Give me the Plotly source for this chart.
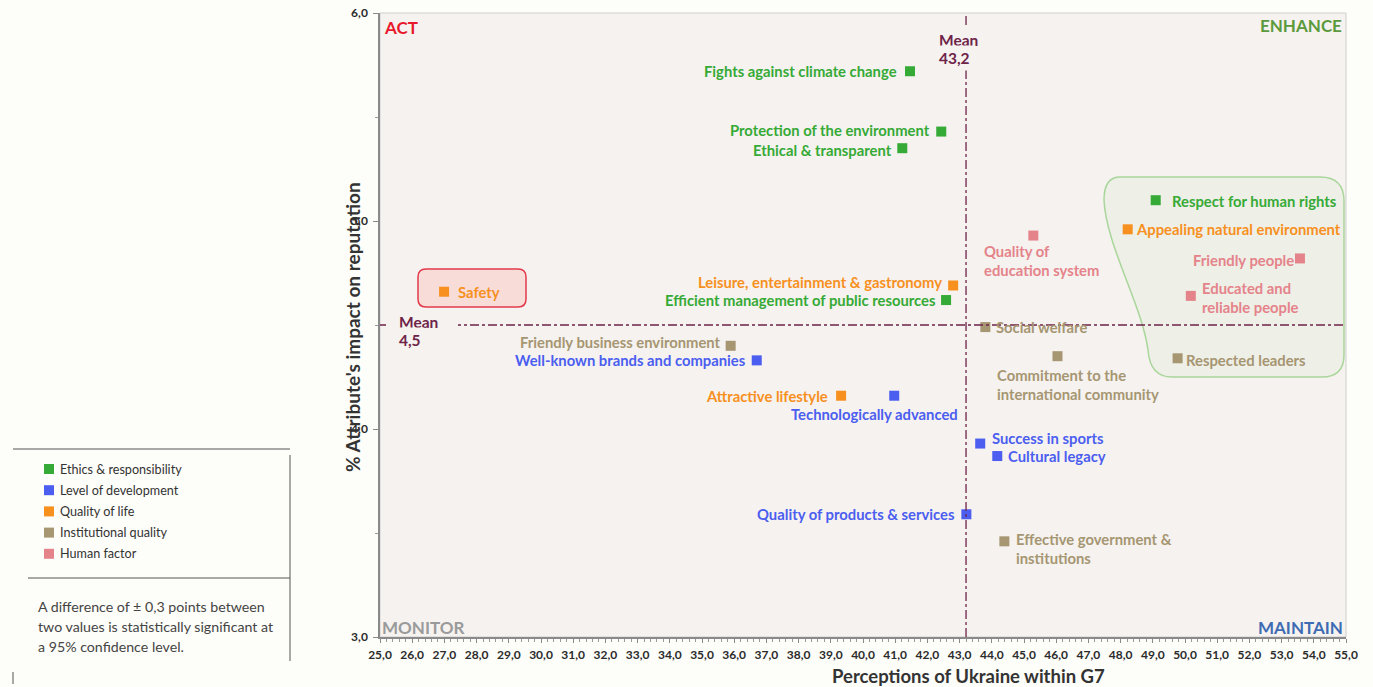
import plotly.graph_objects as go

# ---------------- data ----------------
attributes = [
    "Fights against climate change", "Protection of the environment", "Ethical & transparent",
    "Respect for human rights", "Appealing natural environment", "Quality of<br>education system",
    "Friendly people", "Educated and<br>reliable people", "Safety",
    "Leisure, entertainment & gastronomy", "Efficient management of public resources",
    "Social welfare", "Friendly business environment", "Well-known brands and companies",
    "Commitment to the<br>international community", "Respected leaders", "Attractive lifestyle",
    "Technologically advanced", "Success in sports", "Cultural legacy",
    "Quality of products & services", "Effective government &<br>institutions",
]
perception = [41.46, 42.43, 41.22, 49.09, 48.22, 45.29, 53.57, 50.18, 26.99, 42.80, 42.58,
              43.80, 35.89, 36.70, 46.04, 49.77, 39.32, 40.97, 43.64, 44.17, 43.21, 44.39]
impact = [5.72, 5.43, 5.35, 5.10, 4.96, 4.93, 4.82, 4.64, 4.66, 4.69, 4.62,
          4.49, 4.40, 4.33, 4.35, 4.34, 4.16, 4.16, 3.93, 3.87, 3.59, 3.46]
group = ["Ethics & responsibility", "Ethics & responsibility", "Ethics & responsibility",
         "Ethics & responsibility", "Quality of life", "Human factor",
         "Human factor", "Human factor", "Quality of life",
         "Quality of life", "Ethics & responsibility",
         "Institutional quality", "Institutional quality", "Level of development",
         "Institutional quality", "Institutional quality", "Quality of life",
         "Level of development", "Level of development", "Level of development",
         "Level of development", "Institutional quality"]
categories = ["Ethics & responsibility", "Level of development", "Quality of life",
              "Institutional quality", "Human factor"]
mean_x = 43.2
mean_y = 4.5
x_ticks = [25 + i for i in range(31)]
y_ticks = [3, 4, 5, 6]

# ---------------- style ----------------
colors = {
    "Ethics & responsibility": "#36aa36",
    "Level of development": "#4b5ef0",
    "Quality of life": "#f7901e",
    "Institutional quality": "#a69672",
    "Human factor": "#e5838a",
}
# label placement per point: (xanchor, yanchor, xshift px, yshift px)
label_place = [
    ("right", "middle", -11, 0), ("right", "middle", -9, 2), ("right", "middle", -8, -2),
    ("left", "middle", 14, -1), ("left", "middle", 6, 0), ("left", "top", -51, -4),
    ("right", "middle", -4, -2), ("left", "middle", 9, -2), ("left", "middle", 12, 0),
    ("right", "middle", -9, 3), ("right", "middle", -8, 0),
    ("left", "middle", 9, 0), ("right", "middle", -8, 4), ("right", "middle", -9, 0),
    ("left", "top", -62, -8), ("left", "middle", 6, -2), ("right", "middle", -11, 0),
    ("right", "middle", 66, -18), ("left", "middle", 10, 6), ("left", "middle", 9, 0),
    ("right", "middle", -9, 0), ("left", "top", 10, 13),
]

W, H = 1373, 687
L, R, T, B = 380, 1346, 13, 637
PLOT_BG = "#f5f2ef"
PAPER_BG = "#fdfdf9"
FONT = "Lato"
MEAN_COL = "#6e2349"
LABEL_SIZE = 14.8


def px_x(p):  # pixel -> paper x
    return (p - L) / (R - L)


def px_y(p):  # pixel -> paper y
    return (B - p) / (B - T)


def dx(p):  # pixel -> data x
    return 25 + (p - L) / (R - L) * 30


def dy(p):  # pixel -> data y
    return 6 - (p - T) / (B - T) * 3


fig = go.Figure()

for cat in categories:
    idx = [i for i, g in enumerate(group) if g == cat]
    fig.add_trace(go.Scatter(
        x=[perception[i] for i in idx], y=[impact[i] for i in idx],
        mode="markers", name=cat, showlegend=False,
        marker=dict(symbol="square", size=10, color=colors[cat]),
        hovertext=[attributes[i].replace("<br>", " ") for i in idx], hoverinfo="text+x+y",
    ))

shapes = []
annotations = []

# plot frame (light)
shapes.append(dict(type="rect", xref="paper", yref="paper", x0=0, x1=1, y0=0, y1=1,
                   line=dict(color="#cfcfcf", width=1), layer="below"))

# green blob around top-right cluster
pts = [(1120, 177), (1320, 177), (1344, 177), (1344, 201), (1344, 355), (1344, 377), (1322, 377),
       (1172, 377), (1150, 377), (1148, 350), (1142, 305), (1106, 245), (1104, 200), (1104, 177), (1120, 177)]
P = [(dx(a), dy(b)) for a, b in pts]
path = ("M {0[0]},{0[1]} L {1[0]},{1[1]} Q {2[0]},{2[1]} {3[0]},{3[1]} L {4[0]},{4[1]} "
        "Q {5[0]},{5[1]} {6[0]},{6[1]} L {7[0]},{7[1]} Q {8[0]},{8[1]} {9[0]},{9[1]} "
        "C {10[0]},{10[1]} {11[0]},{11[1]} {12[0]},{12[1]} Q {13[0]},{13[1]} {14[0]},{14[1]} Z").format(*P)
shapes.append(dict(type="path", xref="x", yref="y", path=path,
                   line=dict(color="#a9d69a", width=1.5), fillcolor="rgba(190,225,175,0.13)", layer="below"))

# Safety rounded box
bx0, bx1, by0, by1, r = 418, 526, 269, 307, 8
bp = [(bx0 + r, by0), (bx1 - r, by0), (bx1, by0), (bx1, by0 + r), (bx1, by1 - r), (bx1, by1), (bx1 - r, by1),
      (bx0 + r, by1), (bx0, by1), (bx0, by1 - r), (bx0, by0 + r), (bx0, by0), (bx0 + r, by0)]
BP = [(dx(a), dy(b)) for a, b in bp]
spath = ("M {0[0]},{0[1]} L {1[0]},{1[1]} Q {2[0]},{2[1]} {3[0]},{3[1]} L {4[0]},{4[1]} "
         "Q {5[0]},{5[1]} {6[0]},{6[1]} L {7[0]},{7[1]} Q {8[0]},{8[1]} {9[0]},{9[1]} "
         "L {10[0]},{10[1]} Q {11[0]},{11[1]} {12[0]},{12[1]} Z").format(*BP)
shapes.append(dict(type="path", xref="x", yref="y", path=spath,
                   line=dict(color="#e23a4c", width=1.5), fillcolor="#f8dcd8", layer="below"))

# mean lines
shapes.append(dict(type="line", xref="x", yref="y", x0=mean_x, x1=mean_x, y0=3, y1=6,
                   line=dict(color=MEAN_COL, width=1.3, dash="dashdot"), layer="above"))
shapes.append(dict(type="line", xref="x", yref="y", x0=25, x1=55, y0=mean_y, y1=mean_y,
                   line=dict(color=MEAN_COL, width=1.3, dash="dashdot"), layer="above"))

# point labels
for i, name in enumerate(attributes):
    xa, ya, xs, ys = label_place[i]
    annotations.append(dict(
        x=perception[i], y=impact[i], xref="x", yref="y", text=name, showarrow=False,
        xanchor=xa, yanchor=ya, xshift=xs, yshift=ys, align="left",
        font=dict(family=FONT, size=LABEL_SIZE, color=colors[group[i]], weight="bold"),
    ))

# mean labels (background hides the line)
mean_font = dict(family=FONT, size=15.5, color=MEAN_COL, weight="bold")
for t, yp in [("Mean", 40), ("43,2", 58)]:
    annotations.append(dict(x=px_x(939), y=px_y(yp), xref="paper", yref="paper", text=t, showarrow=False,
                            xanchor="left", yanchor="middle", xshift=-4, bgcolor=PLOT_BG, borderpad=3,
                            font=mean_font))
for t, yp in [("Mean", 322), ("4,5", 340)]:
    annotations.append(dict(x=px_x(399), y=px_y(yp), xref="paper", yref="paper", text=t, showarrow=False,
                            xanchor="left", yanchor="middle", xshift=-4, bgcolor=PLOT_BG, borderpad=3,
                            font=mean_font))
# extra gap in the horizontal mean line right of the label
shapes.append(dict(type="rect", xref="paper", yref="paper", x0=px_x(386), x1=px_x(458),
                   y0=px_y(331), y1=px_y(323), fillcolor=PLOT_BG, line=dict(width=0), layer="above"))

# quadrant labels
quad = [("ACT", 384, 27, "left", "#e8192c"), ("ENHANCE", 1342, 25, "right", "#5b9a3c"),
        ("MONITOR", 382, 627, "left", "#9a9a9a"), ("MAINTAIN", 1343, 627, "right", "#3e6bb3")]
for t, xp, yp, xa, c in quad:
    annotations.append(dict(x=px_x(xp), y=px_y(yp), xref="paper", yref="paper", text=t, showarrow=False,
                            xanchor=xa, yanchor="middle", xshift=(-2 if xa == "left" else 2),
                            font=dict(family=FONT, size=17, color=c, weight="bold")))

# axis titles
annotations.append(dict(x=px_x(352), y=px_y(327), xref="paper", yref="paper",
                        text="% Attribute's impact on reputation", textangle=-90, showarrow=False,
                        xanchor="center", yanchor="middle",
                        font=dict(family=FONT, size=19, color="#333333", weight="bold")))
annotations.append(dict(x=px_x(968), y=px_y(676), xref="paper", yref="paper",
                        text="Perceptions of Ukraine within G7", showarrow=False,
                        xanchor="center", yanchor="middle", borderpad=0,
                        font=dict(family=FONT, size=18.5, color="#333333", weight="bold")))

# side legend panel (manual)
line_col = "#555555"
shapes.append(dict(type="line", xref="paper", yref="paper", x0=px_x(13), x1=px_x(290),
                   y0=px_y(449), y1=px_y(449), line=dict(color=line_col, width=1)))
shapes.append(dict(type="line", xref="paper", yref="paper", x0=px_x(290), x1=px_x(290),
                   y0=px_y(455), y1=px_y(661), line=dict(color=line_col, width=1)))
shapes.append(dict(type="line", xref="paper", yref="paper", x0=px_x(28), x1=px_x(290),
                   y0=px_y(578), y1=px_y(578), line=dict(color=line_col, width=1)))
shapes.append(dict(type="line", xref="paper", yref="paper", x0=px_x(13), x1=px_x(13),
                   y0=px_y(672), y1=px_y(684), line=dict(color=line_col, width=1)))
for k, cat in enumerate(categories):
    yc = 469 + k * 21.2
    shapes.append(dict(type="rect", xref="paper", yref="paper", x0=px_x(44), x1=px_x(54),
                       y0=px_y(yc + 5), y1=px_y(yc - 5), fillcolor=colors[cat], line=dict(width=0)))
    annotations.append(dict(x=px_x(58), y=px_y(yc), xref="paper", yref="paper", text=cat, showarrow=False,
                            xanchor="left", yanchor="middle",
                            font=dict(family=FONT, size=12.6, color="#333333")))
note_lines = ["A difference of ± 0,3 points between", "two values is statistically significant at",
              "a 95% confidence level."]
for k, t in enumerate(note_lines):
    annotations.append(dict(x=px_x(36), y=px_y(606 + k * 20), xref="paper", yref="paper", text=t,
                            showarrow=False, xanchor="left", yanchor="middle",
                            font=dict(family=FONT, size=14.2, color="#444444")))

tickfont = dict(family=FONT, size=12, color="#2b2b2b", weight="bold")
fig.update_layout(
    width=W, height=H,
    margin=dict(l=L, r=W - R, t=T, b=H - B, autoexpand=False),
    paper_bgcolor=PAPER_BG, plot_bgcolor=PLOT_BG,
    separators=",.",
    showlegend=False,
    shapes=shapes, annotations=annotations,
    xaxis=dict(range=[25, 55], tickvals=x_ticks, tickformat=".1f", showgrid=False, zeroline=False,
               automargin=False,
               showline=True, linecolor="#8a8a8a", linewidth=1.5, ticks="outside", ticklen=4,
               tickcolor="#8a8a8a", tickfont=tickfont, ticklabelstandoff=2,
               minor=dict(dtick=0.2, ticks="outside", ticklen=3, tickcolor="#9a9a9a", showgrid=False)),
    yaxis=dict(range=[3, 6], tickvals=y_ticks, tickformat=".1f", showgrid=False, zeroline=False,
               automargin=False,
               showline=True, linecolor="#8a8a8a", linewidth=1.5, ticks="outside", ticklen=5,
               tickcolor="#8a8a8a", tickfont=tickfont, ticklabelstandoff=3,
               minor=dict(dtick=0.5, ticks="outside", ticklen=3, tickcolor="#9a9a9a", showgrid=False)),
)

fig.write_html("out.html")
